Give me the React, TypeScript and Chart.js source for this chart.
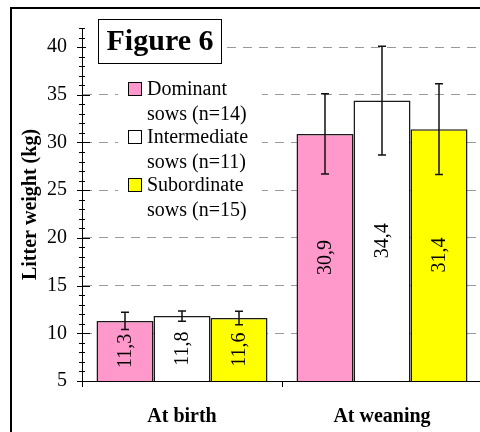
import { useEffect, useRef } from "react";
import { Chart, registerables } from "chart.js";

Chart.register(...registerables);

// ---- data ----
const categories = ["At birth", "At weaning"];
const groupNames = ["Dominant", "Intermediate", "Subordinate"];
const groupSizes = ["sows (n=14)", "sows (n=11)", "sows (n=15)"];
const dominantMeans = [11.3, 30.9];
const intermediateMeans = [11.8, 34.4];
const subordinateMeans = [11.6, 31.4];
const dominantSd = [0.9, 4.2];
const intermediateSd = [0.55, 5.7];
const subordinateSd = [0.7, 4.75];
const yTicks = [5, 10, 15, 20, 25, 30, 35, 40];
const yMin = 5;
const yMax = 42;
const figureTitle = "Figure 6";
const yTitle = "Litter weight (kg)";

const groupColors = ["#FF99CC", "#FFFFFF", "#FFFF00"];
const SERIF = '"Liberation Serif", "Times New Roman", Times, serif';

const meansBySeries = [dominantMeans, intermediateMeans, subordinateMeans];
const sdBySeries = [dominantSd, intermediateSd, subordinateSd];

const formatValue = (v: number) => v.toFixed(1).replace(".", ",");

// Frame, crossing axis ticks, error bars, in-bar values, legend and figure label
const decorations = {
  id: "decorations",
  beforeDraw(chart: any) {
    const { ctx, width, height } = chart;
    ctx.save();
    ctx.fillStyle = "#fff";
    ctx.fillRect(0, 0, width, height);
    ctx.strokeStyle = "#000";
    ctx.lineWidth = 2;
    ctx.beginPath();
    ctx.moveTo(11, height);
    ctx.lineTo(11, 8);
    ctx.lineTo(width, 8);
    ctx.stroke();
    ctx.restore();
  },
  afterDatasetsDraw(chart: any) {
    const { ctx, chartArea } = chart;
    const yScale = chart.scales.y;
    ctx.save();
    chart.data.datasets.forEach((ds: any, i: number) => {
      const meta = chart.getDatasetMeta(i);
      meta.data.forEach((el: any, j: number) => {
        const v = ds.data[j] as number;
        // value label, rotated inside the visible part of the bar
        const base = Math.min(el.base, chartArea.bottom);
        const cy = (el.y + base) / 2;
        ctx.save();
        ctx.translate(el.x, cy);
        ctx.rotate(-Math.PI / 2);
        ctx.font = `20px ${SERIF}`;
        ctx.fillStyle = "#000";
        ctx.textAlign = "center";
        ctx.textBaseline = "middle";
        ctx.fillText(formatValue(v), 0, 1);
        ctx.restore();
        // error bar
        const sd = sdBySeries[i][j];
        const yTop = yScale.getPixelForValue(v + sd);
        const yBot = yScale.getPixelForValue(v - sd);
        ctx.strokeStyle = "#111";
        ctx.lineWidth = 1.5;
        ctx.beginPath();
        ctx.moveTo(el.x, yTop);
        ctx.lineTo(el.x, yBot);
        ctx.moveTo(el.x - 4, yTop);
        ctx.lineTo(el.x + 4, yTop);
        ctx.moveTo(el.x - 4, yBot);
        ctx.lineTo(el.x + 4, yBot);
        ctx.stroke();
      });
    });
    ctx.restore();
  },
  afterDraw(chart: any) {
    const { ctx, chartArea } = chart;
    const yScale = chart.scales.y;
    const ax = chartArea.left;
    ctx.save();
    // major and minor ticks crossing the y axis
    ctx.strokeStyle = "#000";
    ctx.lineWidth = 1;
    for (let v = yMin; v <= yMax; v++) {
      const y = Math.round(yScale.getPixelForValue(v)) + 0.5;
      const major = yTicks.includes(v);
      ctx.beginPath();
      ctx.moveTo(major ? ax - 5 : ax - 3, y);
      ctx.lineTo(major ? ax + 8 : ax + 3, y);
      ctx.stroke();
    }

    // legend block (white background hides the grid behind it)
    ctx.fillStyle = "#fff";
    ctx.fillRect(118, 72, 144, 153);
    const sqX = 128;
    const sqTop0 = 82;
    const step = 48;
    chart.data.datasets.forEach((ds: any, i: number) => {
      const top = sqTop0 + i * step;
      ctx.fillStyle = ds.backgroundColor;
      ctx.fillRect(sqX, top, 14, 14);
      ctx.strokeStyle = "#000";
      ctx.lineWidth = 1;
      ctx.strokeRect(sqX + 0.5, top + 0.5, 13, 13);
      ctx.fillStyle = "#000";
      ctx.font = `20px ${SERIF}`;
      ctx.textAlign = "left";
      ctx.textBaseline = "alphabetic";
      ctx.fillText(groupNames[i], 147, top + 13);
      ctx.fillText(groupSizes[i], 147, top + 37.5);
    });

    // figure label box
    ctx.fillStyle = "#fff";
    ctx.fillRect(86, 19, 136, 45);
    ctx.strokeStyle = "#000";
    ctx.lineWidth = 1;
    ctx.strokeRect(98.5, 19.5, 123, 44);
    ctx.fillStyle = "#000";
    ctx.font = `bold 30px ${SERIF}`;
    ctx.textAlign = "center";
    ctx.textBaseline = "alphabetic";
    ctx.fillText(figureTitle, 160, 50);
    ctx.restore();
  },
};

export default function App() {
  const ref = useRef<HTMLCanvasElement>(null);

  useEffect(() => {
    const datasets = groupNames.map((name, i) => ({
      label: `${name} ${groupSizes[i]}`,
      data: meansBySeries[i],
      backgroundColor: groupColors[i],
      borderColor: "#1a1a1a",
      borderWidth: 1.5,
      borderSkipped: false,
      barPercentage: 1,
      categoryPercentage: 0.855,
    }));

    const chart = new Chart(ref.current!, {
      type: "bar",
      data: { labels: categories, datasets },
      plugins: [decorations],
      options: {
        animation: false,
        responsive: false,
        maintainAspectRatio: false,
        devicePixelRatio: 1,
        layout: { padding: { top: 28, left: 12, right: 2, bottom: 0 } },
        plugins: {
          legend: { display: false },
          tooltip: { enabled: false },
        },
        scales: {
          x: {
            type: "category",
            offset: true,
            grid: {
              offset: true,
              drawOnChartArea: false,
              drawTicks: true,
              tickLength: 6,
              color: "#000",
            },
            border: { display: true, color: "#000", width: 1 },
            ticks: {
              color: "#000",
              padding: 18,
              font: { family: SERIF, size: 20, weight: "bold" },
              maxRotation: 0,
            },
            afterFit: (scale: any) => {
              scale.height = 51;
            },
          },
          y: {
            type: "linear",
            min: yMin,
            max: yMax,
            afterBuildTicks: (scale: any) => {
              scale.ticks = yTicks.map((v) => ({ value: v }));
            },
            afterFit: (scale: any) => {
              scale.width = 70;
            },
            grid: {
              drawTicks: false,
              lineWidth: 1,
              color: (c: any) => (c.tick && c.tick.value === yMin ? "rgba(0,0,0,0)" : "#999999"),
            },
            border: { display: true, color: "#000", width: 1, dash: [9, 7] },
            ticks: {
              color: "#000",
              padding: 15,
              font: { family: SERIF, size: 20 },
            },
            title: {
              display: true,
              text: yTitle,
              color: "#000",
              padding: { top: 7, bottom: 0 },
              font: { family: SERIF, size: 20, weight: "bold" },
            },
          },
        },
      } as any,
    });
    return () => chart.destroy();
  }, []);

  return (
    <div
      style={{
        position: "fixed",
        left: 0,
        top: 0,
        width: 480,
        height: 432,
        overflow: "hidden",
        background: "#fff",
      }}
    >
      <canvas ref={ref} width={484} height={432} style={{ display: "block", width: 484, height: 432 }} />
    </div>
  );
}
